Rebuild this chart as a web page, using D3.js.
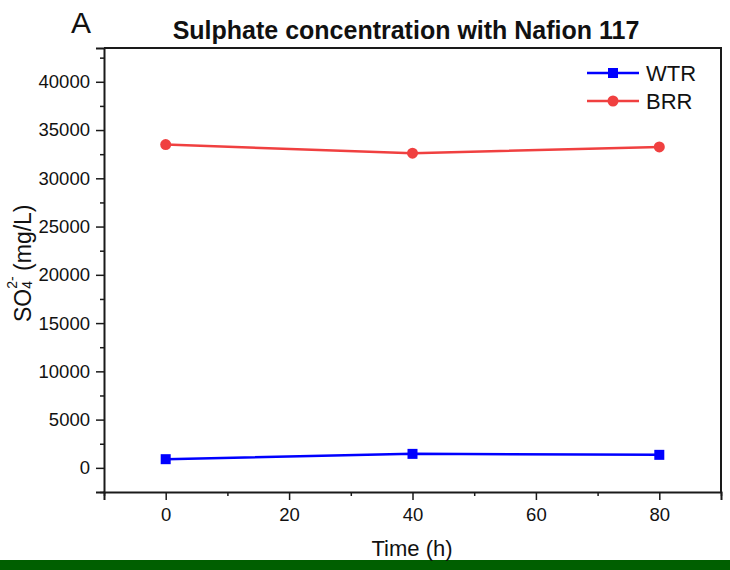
<!DOCTYPE html>
<html>
<head>
<meta charset="utf-8">
<script src="https://cdn.jsdelivr.net/npm/d3@7"></script>
<style>
  html, body { margin: 0; padding: 0; background: #fff; }
  svg { display: block; font-family: "Liberation Sans", Arial, sans-serif; }
</style>
</head>
<body>
<svg id="chart" width="730" height="570"></svg>
<script>
// Sampling times (h)
const times = [0, 40, 80];
// Sulphate concentration (mg/L) per reservoir
const wtrValues = [900, 1450, 1350];
const brrValues = [33500, 32600, 33250];
const seriesNames = ["WTR", "BRR"];
// Axis ticks
const xMajorTicks = [0, 20, 40, 60, 80];
const xMinorTicks = [-10, 10, 30, 50, 70, 90];
const yMajorTicks = [0, 5000, 10000, 15000, 20000, 25000, 30000, 35000, 40000];
const yMinorTicks = [-2500, 2500, 7500, 12500, 17500, 22500, 27500, 32500, 37500, 42500];

const svg = d3.select("#chart");
const W = 730, H = 570;
const plot = { left: 104, right: 721, top: 48, bottom: 492 };

const x = d3.scaleLinear().domain([-10, 90]).range([plot.left, plot.right]);
const y = d3.scaleLinear().domain([-2500, 43500]).range([plot.bottom, plot.top]);

const axisColor = "#1a1a1a";
const blue = "#0000FF";
const red = "#F04040";

// Footer band
svg.append("rect")
  .attr("x", 0).attr("y", 560).attr("width", W).attr("height", 10)
  .attr("fill", "#005F00");

// Frame (top and right)
svg.append("path")
  .attr("d", `M${plot.left},${plot.top}H${plot.right}V${plot.bottom}`)
  .attr("fill", "none").attr("stroke", axisColor).attr("stroke-width", 2);

// Bottom axis
svg.append("g").attr("transform", `translate(0,${plot.bottom})`)
  .call(d3.axisBottom(x).tickValues(xMajorTicks).tickSize(8).tickPadding(8).tickFormat(d3.format("d")));
svg.append("g").attr("transform", `translate(0,${plot.bottom})`)
  .call(d3.axisBottom(x).tickValues(xMinorTicks).tickSize(4).tickFormat(""))
  .call(g => g.select(".domain").remove());

// Left axis
svg.append("g").attr("transform", `translate(${plot.left},0)`)
  .call(d3.axisLeft(y).tickValues(yMajorTicks).tickSize(8).tickPadding(6).tickFormat(d3.format("d")));
svg.append("g").attr("transform", `translate(${plot.left},0)`)
  .call(d3.axisLeft(y).tickValues(yMinorTicks).tickSize(4).tickFormat(""))
  .call(g => g.select(".domain").remove());

svg.selectAll(".domain").attr("stroke", axisColor).attr("stroke-width", 2);
svg.selectAll(".tick line").attr("stroke", axisColor).attr("stroke-width", 1.5);
svg.selectAll(".tick text")
  .attr("font-family", "'Liberation Sans', Arial, sans-serif")
  .attr("font-size", 18.5).attr("fill", "#111");

// Series
const series = [
  { name: seriesNames[0], values: wtrValues, color: blue, marker: "square" },
  { name: seriesNames[1], values: brrValues, color: red, marker: "circle" }
];

const line = d3.line().x(d => x(d.t)).y(d => y(d.v));

series.forEach(s => {
  const pts = times.map((t, i) => ({ t, v: s.values[i] }));
  svg.append("path").datum(pts)
    .attr("d", line).attr("fill", "none")
    .attr("stroke", s.color).attr("stroke-width", 2.5);
  if (s.marker === "square") {
    svg.selectAll(null).data(pts).enter().append("rect")
      .attr("x", d => x(d.t) - 5).attr("y", d => y(d.v) - 5)
      .attr("width", 10).attr("height", 10).attr("fill", s.color);
  } else {
    svg.selectAll(null).data(pts).enter().append("circle")
      .attr("cx", d => x(d.t)).attr("cy", d => y(d.v))
      .attr("r", 5.5).attr("fill", s.color);
  }
});

// Legend
const legend = svg.append("g").attr("transform", "translate(587,73)");
series.forEach((s, i) => {
  const g = legend.append("g").attr("transform", `translate(0,${i * 28})`);
  g.append("line").attr("x1", 0).attr("x2", 52).attr("y1", 0).attr("y2", 0)
    .attr("stroke", s.color).attr("stroke-width", 2.5);
  if (s.marker === "square") {
    g.append("rect").attr("x", 21).attr("y", -5).attr("width", 10).attr("height", 10).attr("fill", s.color);
  } else {
    g.append("circle").attr("cx", 26).attr("cy", 0).attr("r", 5.5).attr("fill", s.color);
  }
  g.append("text").attr("x", 59).attr("y", 8)
    .attr("font-size", 22).attr("fill", "#111").text(s.name);
});

// Title
svg.append("text")
  .attr("x", 406).attr("y", 39).attr("text-anchor", "middle")
  .attr("font-size", 25).attr("font-weight", "bold").attr("fill", "#111")
  .text("Sulphate concentration with Nafion 117");

// Panel letter
svg.append("text")
  .attr("x", 71).attr("y", 33)
  .attr("font-size", 30).attr("fill", "#111").text("A");

// X axis title
svg.append("text")
  .attr("x", 412).attr("y", 556).attr("text-anchor", "middle")
  .attr("font-size", 22).attr("fill", "#111").text("Time (h)");

// Y axis title with stacked subscript/superscript
const yLab = svg.append("text")
  .attr("transform", "translate(31,322) rotate(-90)")
  .attr("font-size", 23).attr("fill", "#111");
yLab.append("tspan").text("SO");
yLab.append("tspan").attr("font-size", 14).attr("dy", 1).text("4");
yLab.append("tspan").attr("font-size", 14).attr("dx", -7.8).attr("dy", -15).text("2-");
yLab.append("tspan").attr("dx", -1).attr("dy", 14).text(" (mg/L)");
</script>
</body>
</html>
